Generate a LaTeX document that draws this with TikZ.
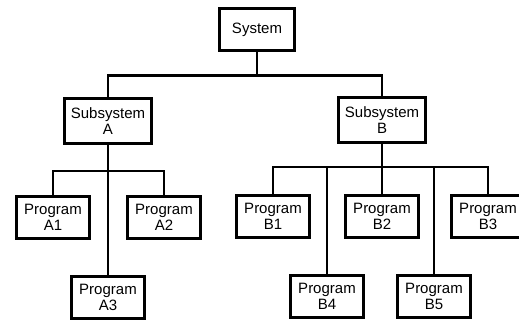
\documentclass[tikz,border=0pt]{standalone}
\usepackage{fontspec}
\setmainfont{Liberation Sans}
\tikzset{
  box/.style={draw, line width=3pt, align=center, inner sep=0pt,
    minimum width=73pt, minimum height=42pt, font=\fontsize{15}{16}\selectfont},
  subbox/.style={box, minimum width=87pt, minimum height=45pt},
  link/.style={line width=2.2pt}
}
\begin{document}
\begin{tikzpicture}
  [x=1pt, y=-1pt]
  \useasboundingbox (0,0) rectangle (519,321);
  \clip (0,0) rectangle (519,321);
  \node[box, minimum width=75pt] (sys) at (257, 30) {System};
  \node[subbox] (suba) at (108, 121) {Subsystem\\A};
  \node[subbox] (subb) at (382, 120) {Subsystem\\B};
  \node[box] (a1) at (53, 217) {Program\\A1};
  \node[box] (a2) at (164, 217) {Program\\A2};
  \node[box] (a3) at (108, 297) {Program\\A3};
  \node[box] (b1) at (273, 216) {Program\\B1};
  \node[box] (b2) at (382, 216) {Program\\B2};
  \node[box] (b3) at (488, 216) {Program\\B3};
  \node[box] (b4) at (327, 296) {Program\\B4};
  \node[box] (b5) at (434, 296) {Program\\B5};

  \foreach \to in {suba,subb}
  \draw[link] (sys.south) -- ++(0,23) -| (\to.north);
  \foreach \to in {a1,a2,a3}
  \draw[link] (suba.south) -- ++(0,26) -| (\to.north);
  \foreach \to in {b1,b2,b3,b4,b5}
  \draw[link] (subb.south) -- ++(0,23) -| (\to.north);
\end{tikzpicture}
\end{document}
